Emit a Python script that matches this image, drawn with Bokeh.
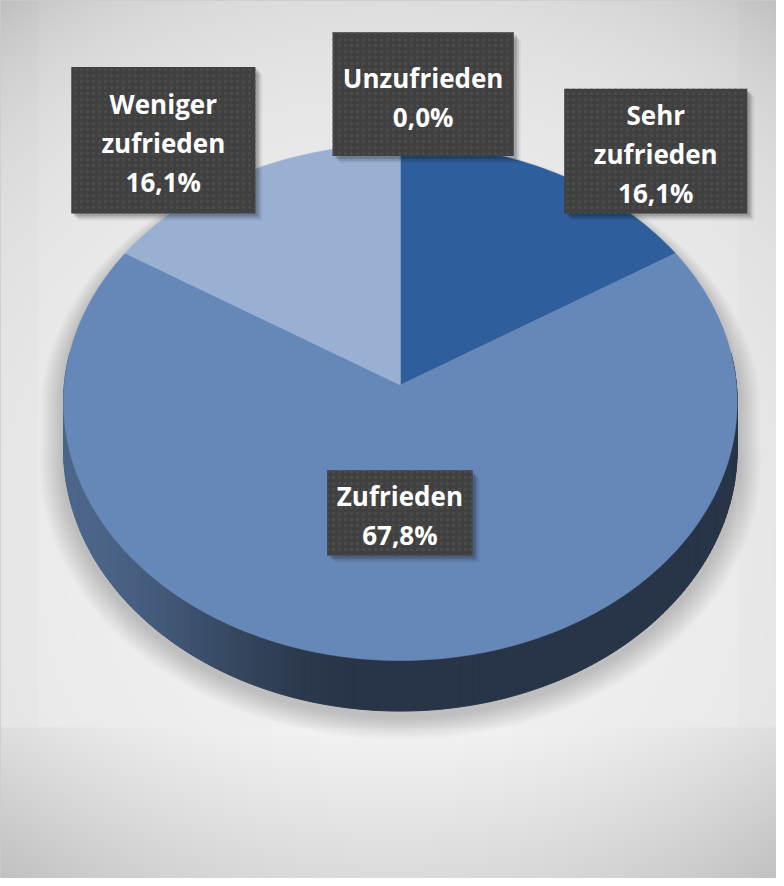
import numpy as np
from bokeh.plotting import figure
from bokeh.models import Range1d, ColumnDataSource
from bokeh.core.properties import value
from bokeh.embed import file_html
from bokeh.resources import INLINE

# ---------------- data ----------------
categories = ["Sehr zufrieden", "Zufrieden", "Weniger zufrieden", "Unzufrieden"]
values = [16.1, 67.8, 16.1, 0.0]
colors = ["#2E5E9B", "#6688B8", "#9AB0D3", "#B8C8E2"]

# ---------------- layout (reference px, y down) ----------------
W, H = 776, 878          # plot size in screen px
RW, RH = 784, 886        # coordinate space of the layout numbers
# label boxes: centre x, centre y, width, height
box_cx = [662, 403.5, 164.5, 427]
box_cy = [152, 517, 141, 94.5]
box_w = [185, 147, 186, 183]
box_h = [126, 86, 148, 125]

# 3D pie projection parameters
CX, CY = 404.0, 388.0
R, A, K, D0 = 339.5, 259.4, 0.067, 47.6


def Y(sy):
    return RH - np.asarray(sy, dtype=float)


def proj(theta_deg, depth=0.0, r=R, a=A, dy=0.0):
    t = np.radians(np.asarray(theta_deg, dtype=float))
    Z = np.cos(t)
    X = np.sin(t)
    s = 1.0 / (1.0 + K * Z)
    sx = CX + r * X * s
    sy = CY - a * Z * s + depth * s + dy
    return sx, sy


p = figure(width=W, height=H, x_range=Range1d(0, RW), y_range=Range1d(0, RH),
           output_backend="svg", toolbar_location=None, min_border=0,
           x_axis_location=None, y_axis_location=None)
p.grid.visible = False
p.outline_line_color = "#cccccc"
p.background_fill_color = "#e6e6e6"
p.border_fill_color = "#e6e6e6"

# ---------------- background gradient ----------------
step = 2
nx, ny = RW // step, RH // step
gx = (np.arange(nx) + 0.5) * step
gy = (np.arange(ny) + 0.5) * step
SX, SY = np.meshgrid(gx, gy)
dA = np.hypot(SX - 395, SY - 560) / 664.0
vA = 241 - 20 * dA ** 2 - 20 * dA ** 8
vA = np.where((SX < 38) | (SX > 746), vA - 3, vA)
u = np.clip(np.abs(SX - 395) / 375.0, 0, 1.1)
w = np.clip((SY - 735) / 145.0, 0, 1.1)
vB = 243 - 19 * u ** 2 - 23 * w - 5 * u ** 2 * w
v = np.where(SY < 735, vA, vB)
v = np.clip(v, 0, 255).astype(np.uint8)
rgba = np.zeros((ny, nx, 4), dtype=np.uint8)
rgba[..., 0] = v
rgba[..., 1] = v
rgba[..., 2] = v
rgba[..., 3] = 255
img = rgba[::-1].copy().view(dtype=np.uint32).reshape((ny, nx))
p.image_rgba(image=[img], x=0, y=0, dw=RW, dh=RH)

# ---------------- shadow of the pie ----------------
sh_xs, sh_ys = [], []
for e in np.arange(2, 26, 2):
    tb = np.linspace(-90, 90, 91)
    tf = np.linspace(90, 270, 91)
    x1, y1 = proj(tb, 0, R + e, A + 0.6 * e, 6 + 0.3 * e)
    x2, y2 = proj(tf, D0, R + e, A + 0.6 * e, 6 + 0.3 * e)
    sh_xs.append(list(np.concatenate([x1, x2])))
    sh_ys.append(list(Y(np.concatenate([y1, y2]))))
p.patches(xs=sh_xs, ys=sh_ys, fill_color="black", fill_alpha=0.014, line_color=None)

# ---------------- slice geometry from the data ----------------
total = float(sum(values))
cum = np.concatenate([[0.0], np.cumsum(values)]) / total * 360.0
starts, ends = cum[:-1], cum[1:]


def hex2rgb(h):
    h = h.lstrip("#")
    return np.array([int(h[i:i + 2], 16) for i in (0, 2, 4)], dtype=float)


def rgb2hex(c):
    c = np.clip(np.round(c), 0, 255).astype(int)
    return "#%02x%02x%02x" % tuple(c)


# side (rim) strips
side_xs, side_ys, side_cols = [], [], []
for i, (a0, a1) in enumerate(zip(starts, ends)):
    if a1 - a0 <= 0:
        continue
    n = max(1, int(np.ceil(a1 - a0)))
    th = np.linspace(a0, a1, n + 1)
    base = hex2rgb(colors[i])
    for j in range(n):
        tm = 0.5 * (th[j] + th[j + 1])
        if np.cos(np.radians(tm)) > 0.12:
            continue
        tx, ty = proj([th[j], th[j + 1]])
        bx, by = proj([th[j + 1], th[j]], D0)
        xm = float(np.mean(tx))
        t = np.clip((xm - 60) / 300.0, 0, 1)
        ss = t * t * (3 - 2 * t)
        f = 0.39 + 0.36 * (1 - ss)
        side_xs.append(list(np.concatenate([tx, bx])))
        side_ys.append(list(Y(np.concatenate([ty, by]))))
        side_cols.append(rgb2hex(base * f))
p.patches(xs=side_xs, ys=side_ys, fill_color=side_cols, line_color=side_cols, line_width=1)

# top faces
top_xs, top_ys, top_cols = [], [], []
for i, (a0, a1) in enumerate(zip(starts, ends)):
    if a1 - a0 <= 0:
        continue
    n = max(2, int(np.ceil(a1 - a0)) + 1)
    th = np.linspace(a0, a1, n)
    ax, ay = proj(th)
    top_xs.append([CX] + list(ax))
    top_ys.append(list(Y(np.concatenate([[CY], ay]))))
    top_cols.append(colors[i])
p.patches(xs=top_xs, ys=top_ys, fill_color=top_cols, line_color=top_cols, line_width=0.5)

# ---------------- labels ----------------
bl = np.array(box_cx) - np.array(box_w) / 2
br = np.array(box_cx) + np.array(box_w) / 2
bt = np.array(box_cy) - np.array(box_h) / 2
bb = np.array(box_cy) + np.array(box_h) / 2

for d, al in [(7, 0.06), (5, 0.10), (3, 0.16)]:
    p.quad(left=bl + d, right=br + d, top=Y(bt + d), bottom=Y(bb + d),
           fill_color="black", fill_alpha=al, line_color=None)

p.quad(left=bl, right=br, top=Y(bt), bottom=Y(bb), fill_color="#404040",
       line_color=None, hatch_pattern="dot", hatch_color="#4c4c4c",
       hatch_scale=6, hatch_weight=1)

labels = []
for c, v_ in zip(categories, values):
    labels.append(c.replace(" ", "\n") + "\n" + ("%.1f%%" % v_).replace(".", ","))

src = ColumnDataSource(dict(x=box_cx, y=list(Y(np.array(box_cy) + 3)), text=labels))
p.text(x="x", y="y", text="text", source=src, text_color="white",
       text_font=value("Open Sans"), text_font_style="bold", text_font_size="26px",
       text_align="center", text_baseline="middle", text_line_height=1.08)

open("out.html", "w").write(file_html(p, INLINE))
